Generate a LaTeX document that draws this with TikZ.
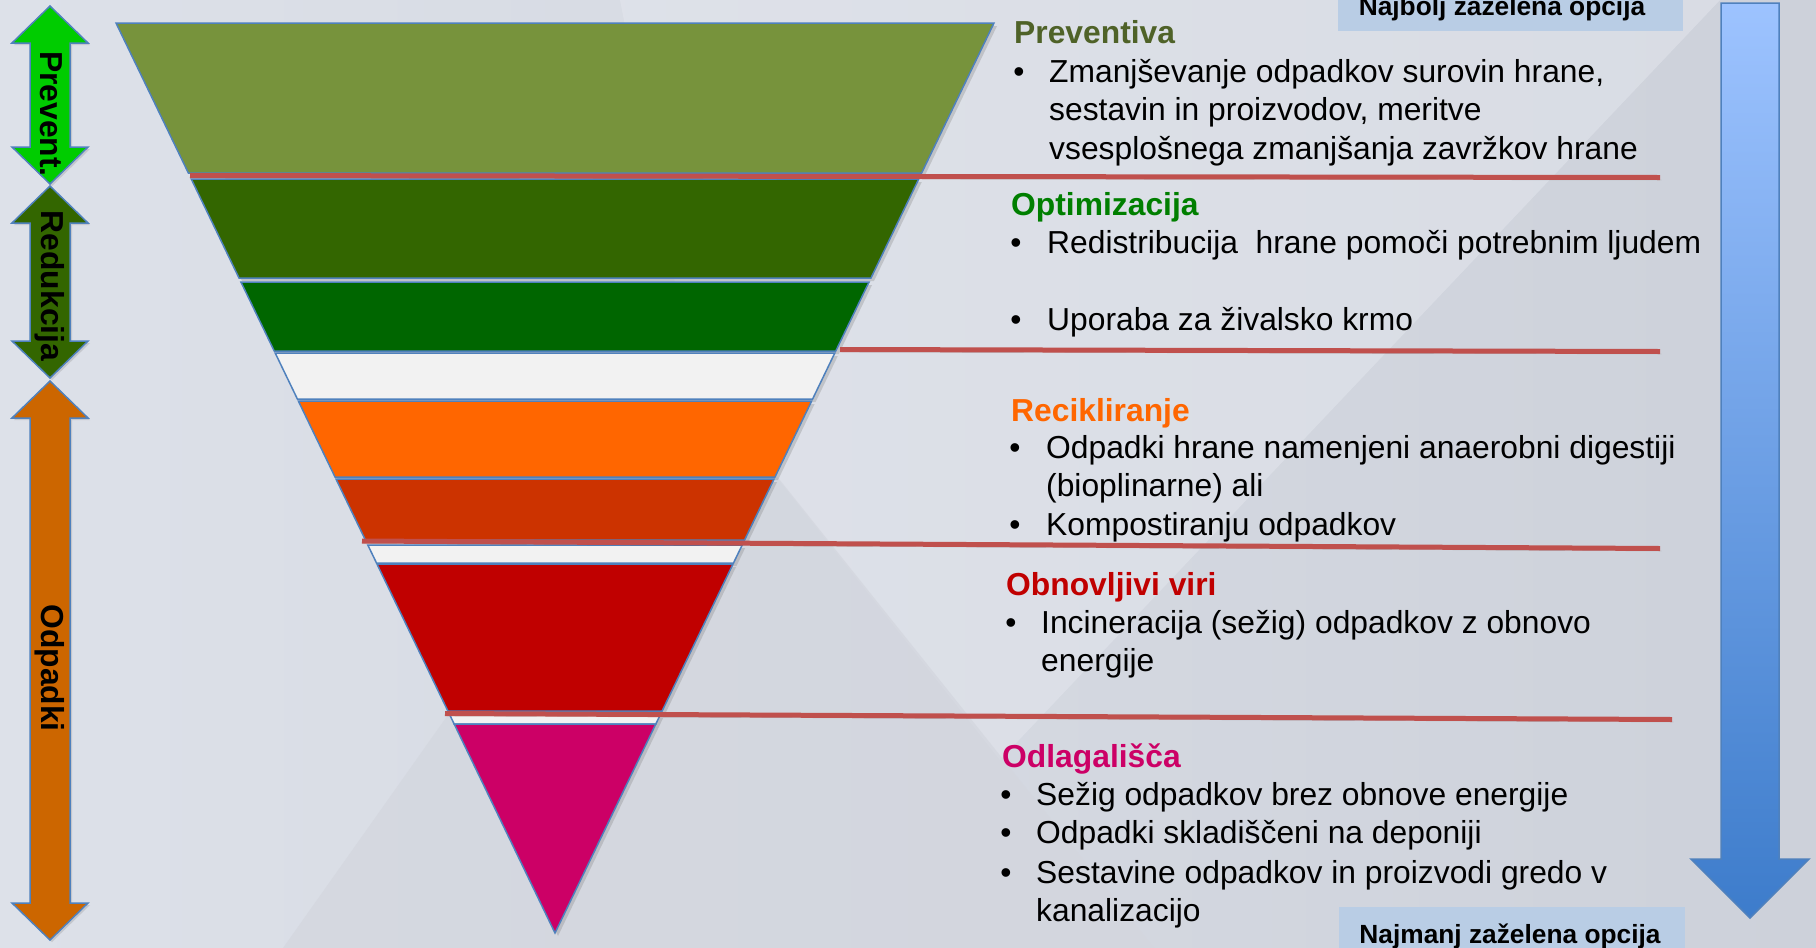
\documentclass[tikz,border=0pt]{standalone}
\usepackage{fontspec}
\setmainfont{Liberation Sans}
\usetikzlibrary{calc,shadows}
\definecolor{bgleft}{HTML}{DDE1E9}
\definecolor{bgright}{HTML}{CDD1DA}
\definecolor{bgdark}{HTML}{D3D6DE}
\definecolor{bglight}{HTML}{E4E7EE}
\definecolor{edgeblue}{HTML}{4F81BD}
\definecolor{divred}{HTML}{C0504D}
\definecolor{olivetop}{HTML}{77933C}
\definecolor{darkolive}{HTML}{336600}
\definecolor{leafgreen}{HTML}{006600}
\definecolor{paleband}{HTML}{F2F2F2}
\definecolor{orangeband}{HTML}{FF6600}
\definecolor{rustband}{HTML}{CC3300}
\definecolor{redband}{HTML}{C00000}
\definecolor{magband}{HTML}{CC0066}
\definecolor{prevgreen}{HTML}{4F6228}
\definecolor{optgreen}{HTML}{007F00}
\definecolor{boxblue}{HTML}{B9CDE5}
\definecolor{arrowtop}{HTML}{9DC3FF}
\definecolor{arrowbot}{HTML}{3D7CCB}
\definecolor{brightgreen}{HTML}{00CC00}
\definecolor{brownorange}{HTML}{CC6600}
\tikzset{
  band/.style={draw=edgeblue,line width=1.5pt,drop shadow={shadow xshift=3pt,shadow yshift=-3pt,opacity=.3}},
  divider/.style={draw=divred,line width=5pt,preaction={draw=black,opacity=.2,transform canvas={xshift=1.5pt,yshift=-2.5pt}}},
  head/.style={font=\bfseries\fontsize{31.8}{38.5}\selectfont,anchor=base west,inner sep=0pt},
  body/.style={font=\fontsize{31.8}{38.5}\selectfont,anchor=base west,inner sep=0pt,align=left},
  dot/.style={font=\fontsize{31.8}{38.5}\selectfont,anchor=base,inner sep=0pt},
  sidelabel/.style={font=\bfseries\fontsize{31.8}{38.5}\selectfont,rotate=-90,inner sep=0pt},
  boxtxt/.style={font=\bfseries\fontsize{26.3}{30}\selectfont,anchor=base,inner sep=0pt},
  dblarrow/.style={draw=edgeblue,line width=1.5pt,drop shadow={shadow xshift=2pt,shadow yshift=-2pt,opacity=.25}}
}
\begin{document}
\begin{tikzpicture}[x=1pt,y=-1pt]
\clip(0,0)rectangle(1816,948);
\shade[left color=bgleft,right color=bgright](0,0)rectangle(1816,948);
\fill[bglight,opacity=.5](620,0)--(1720,0)--(1000,760)--(692,370)--cycle;
\fill[bgdark,opacity=.7](692,370)--(1154,948)--(283,948)--cycle;
\coordinate(apex)at(555,933);
\coordinate(tl)at(116,23);
\coordinate(tr)at(994,23);
\foreach \ya/\yb/\col in {23/173/olivetop,179/278/darkolive,282/351/leafgreen,353/399/paleband,401/477/orangeband,479/540/rustband,545/563/paleband,564/711/redband,715/724/paleband,724/933/magband}
  \filldraw[band,fill=\col]($(apex)!{(933-\ya)/910}!(tl)$)--($(apex)!{(933-\ya)/910}!(tr)$)--($(apex)!{(933-\yb)/910}!(tr)$)--($(apex)!{(933-\yb)/910}!(tl)$)--cycle;
\draw[divider](190,175.5)--(1660,177.5);
\draw[divider](840,349.5)--(1660,351.5);
\draw[divider](362,541)--(1660,548.5);
\draw[divider](445,713.5)--(1672,719.5);
\foreach \t/\b/\col in {6/184/brightgreen,186/378/darkolive,381/940/brownorange}
  \filldraw[dblarrow,fill=\col](50,\t)--(88,\t+37)--(70,\t+37)--(70,\b-37)--(88,\b-37)--(50,\b)--(12,\b-37)--(30,\b-37)--(30,\t+37)--(12,\t+37)--cycle;
\node[sidelabel](prevside)at(51,114){Prevent.};
\node[sidelabel](redside)at(50,286){Redukcija};
\node[sidelabel](wasteside)at(50,668){Odpadki};
\path[top color=arrowtop,bottom color=arrowbot,draw=edgeblue,line width=1.5pt](1721,3)--(1779,3)--(1779,859)--(1809,859)--(1750,918)--(1691,859)--(1721,859)--cycle;
\fill[boxblue](1338,-2)rectangle(1683,31);
\node[boxtxt](besttxt)at(1502,15){Najbolj zaželena opcija};
\fill[boxblue](1339,907)rectangle(1685,950);
\node[boxtxt](worsttxt)at(1510,943){Najmanj zaželena opcija};
\node[head,text=prevgreen](prevhead)at(1014,43){Preventiva};
\node[dot](prevdot)at(1019,82){•};
\node[body](prevtext)at(1049,159){Zmanjševanje odpadkov surovin hrane,\\sestavin in proizvodov, meritve\\vsesplošnega zmanjšanja zavržkov hrane};
\node[head,text=optgreen](opthead)at(1011,215){Optimizacija};
\node[dot](optdota)at(1016,253){•};
\node[body](opttexta)at(1047,253){Redistribucija~ hrane pomoči potrebnim ljudem};
\node[dot](optdotb)at(1016,330){•};
\node[body](opttextb)at(1047,330){Uporaba za živalsko krmo};
\node[head,text=orangeband](rechead)at(1011,421){Recikliranje};
\node[dot](recdota)at(1015,458){•};
\node[body](rectexta)at(1046,496.5){Odpadki hrane namenjeni anaerobni digestiji\\(bioplinarne) ali};
\node[dot](recdotb)at(1015,535){•};
\node[body](rectextb)at(1046,535){Kompostiranju odpadkov};
\node[head,text=redband](renhead)at(1006,595){Obnovljivi viri};
\node[dot](rendot)at(1011,633){•};
\node[body](rentext)at(1041,671.5){Incineracija (sežig) odpadkov z obnovo\\energije};
\node[head,text=magband](landhead)at(1002,767){Odlagališča};
\node[dot](landdota)at(1006,805){•};
\node[body](landtexta)at(1036,805){Sežig odpadkov brez obnove energije};
\node[dot](landdotb)at(1006,843){•};
\node[body](landtextb)at(1036,843){Odpadki skladiščeni na deponiji};
\node[dot](landdotc)at(1006,883){•};
\node[body](landtextc)at(1036,921.5){Sestavine odpadkov in proizvodi gredo v\\kanalizacijo};
\end{tikzpicture}
\end{document}
